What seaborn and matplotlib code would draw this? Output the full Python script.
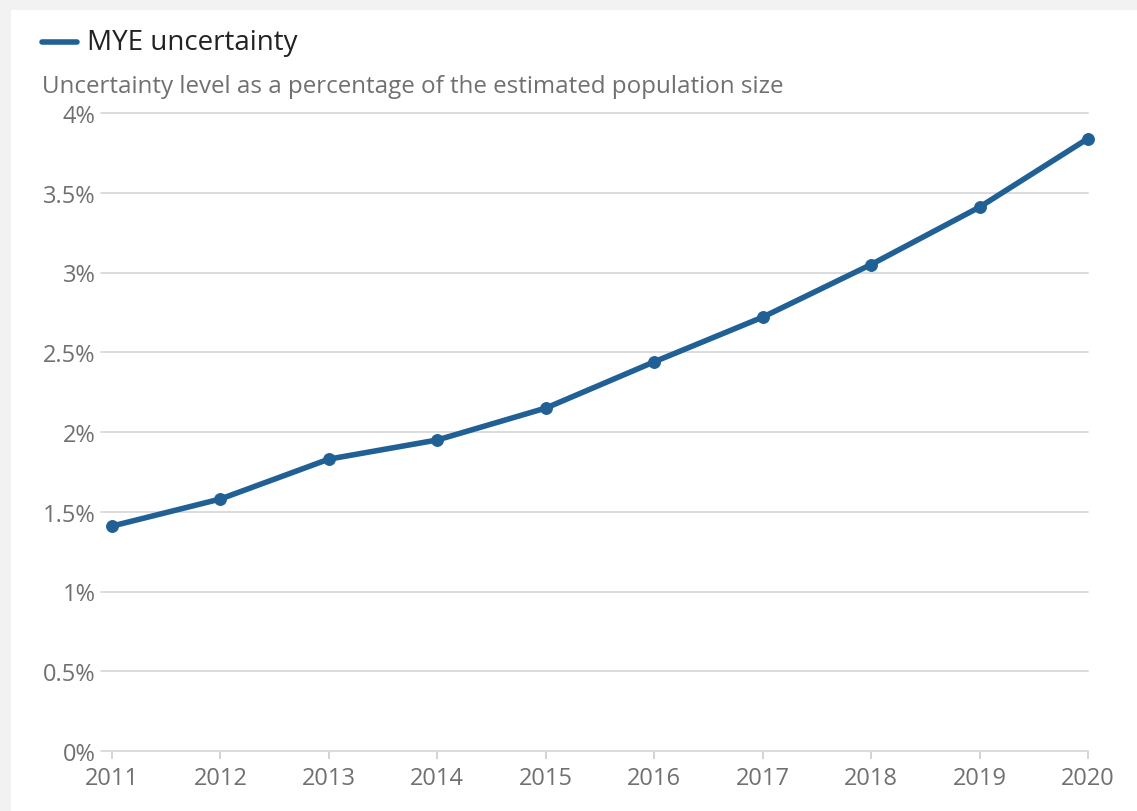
import pandas as pd
import matplotlib.pyplot as plt
import seaborn as sns

# Datos
years = [2011, 2012, 2013, 2014, 2015, 2016, 2017, 2018, 2019, 2020]
uncertainty = [1.41, 1.58, 1.83, 1.95, 2.15, 2.44, 2.72, 3.05, 3.41, 3.84]
y_ticks = [0, 0.5, 1, 1.5, 2, 2.5, 3, 3.5, 4]
y_labels = ["0%", "0.5%", "1%", "1.5%", "2%", "2.5%", "3%", "3.5%", "4%"]

df = pd.DataFrame({"year": years, "value": uncertainty})

sns.set_style("white")
plt.rcParams["font.family"] = ["Open Sans", "DejaVu Sans"]

blue = "#206095"
grid_col = "#d9d9d9"
tick_col = "#707070"

fig = plt.figure(figsize=(11.37, 8.12), dpi=100, facecolor="#f2f2f2")
# tarjeta blanca detras de todo
fig.patches.append(plt.Rectangle((11 / 1137, 0), 1, 1 - 11 / 812,
                                 transform=fig.transFigure, facecolor="white",
                                 edgecolor="none", zorder=-10))

ax = fig.add_axes([112 / 1137, 1 - 752 / 812, (1088 - 112) / 1137, (752 - 114) / 812])
ax.set_zorder(1)
ax.patch.set_alpha(0)

sns.lineplot(data=df, x="year", y="value", ax=ax, color=blue, linewidth=4,
             marker="o", markersize=8.5, markeredgecolor=blue, zorder=3,
             clip_on=False)

ax.set_xlim(2011, 2020)
ax.set_ylim(0, 4)
ax.set_yticks(y_ticks)
ax.set_yticklabels(y_labels)
ax.set_xticks(years)
ax.set_xticklabels([str(y) for y in years])

# lineas de cuadricula que empiezan un poco a la izquierda del eje
for t in y_ticks:
    ax.plot([-0.011, 1], [t / 4, t / 4], transform=ax.transAxes, color=grid_col,
            linewidth=1.3, clip_on=False, zorder=1)

for s in ax.spines.values():
    s.set_visible(False)

ax.tick_params(axis="y", left=False, length=0, pad=12, labelsize=17, labelcolor=tick_col)
ax.tick_params(axis="x", bottom=True, length=6, width=1.2, color="#cccccc", pad=5,
               labelsize=17, labelcolor=tick_col, direction="out")
ax.set_xlabel("")
ax.set_ylabel("")

# leyenda y subtitulo
fig.lines.append(plt.Line2D([42 / 1137, 77 / 1137], [1 - 43 / 812, 1 - 43 / 812],
                            transform=fig.transFigure, color=blue, linewidth=4))
fig.text(87 / 1137, 1 - 43 / 812, "MYE uncertainty", fontsize=20, color="#222222",
         va="center", ha="left")
fig.text(42 / 1137, 1 - 87 / 812, "Uncertainty level as a percentage of the estimated population size",
         fontsize=17.4, color="#707070", va="center", ha="left")

plt.savefig("out.png", dpi=100, facecolor=fig.get_facecolor())
